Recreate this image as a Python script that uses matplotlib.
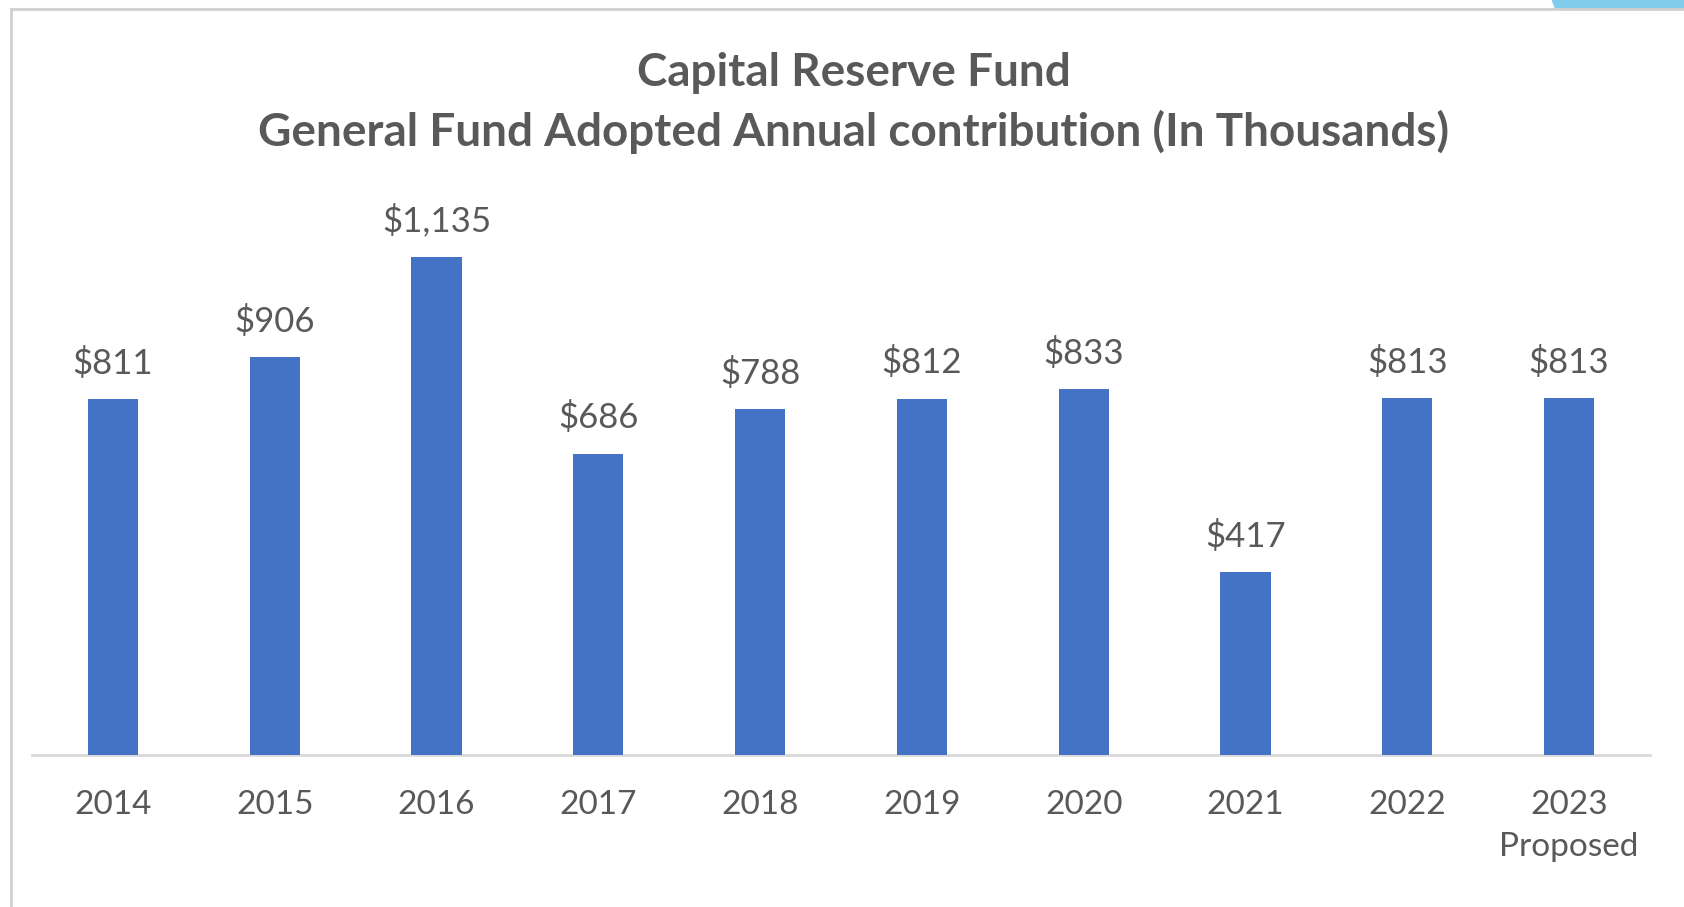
import matplotlib.pyplot as plt
from matplotlib.lines import Line2D
from matplotlib.patches import Polygon

years = ['2014', '2015', '2016', '2017', '2018', '2019', '2020', '2021', '2022', '2023\nProposed']
values = [811, 906, 1135, 686, 788, 812, 833, 417, 813, 813]
labels = ['$811', '$906', '$1,135', '$686', '$788', '$812', '$833', '$417', '$813', '$813']

W, H = 1684, 907
fig = plt.figure(figsize=(W / 100, H / 100), dpi=100)
plt.rcParams['font.family'] = ['Lato', 'DejaVu Sans']
grey = '#595959'

# axes placed in pixel coords: x from 32 to 1650, bottom at y=755, top at y=180
left, right, bottom, top = 32, 1650, 755, 180
ax = fig.add_axes([left / W, 1 - bottom / H, (right - left) / W, (bottom - top) / H])

x = list(range(len(years)))
ax.bar(x, values, width=0.31, color='#4472C4', zorder=3)
ax.set_xlim(-0.5, len(years) - 0.5)
ax.set_ylim(0, 1310)

for xi, v, lab in zip(x, values, labels):
    ax.annotate(lab, (xi, v), xytext=(0, 14), textcoords='offset points',
                ha='center', va='bottom', fontsize=25, color=grey)

ax.set_xticks(x)
ax.set_xticklabels(years, fontsize=24, color=grey, linespacing=1.5, va='top')
ax.tick_params(axis='x', length=0, pad=25)
ax.set_yticks([])
for s in ['left', 'right', 'top']:
    ax.spines[s].set_visible(False)
ax.spines['bottom'].set_color('#D9D9D9')
ax.spines['bottom'].set_linewidth(2)

fig.text(854 / W, 1 - 73 / H, 'Capital Reserve Fund', ha='center', va='center',
         fontsize=33, fontweight='bold', color=grey)
fig.text(854 / W, 1 - 132 / H, 'General Fund Adopted Annual contribution (In Thousands)',
         ha='center', va='center', fontsize=33, fontweight='bold', color=grey)

# frame of the screenshot
fig.add_artist(Line2D([11 / W, 11 / W], [0, 1 - 9 / H], color='#D0D0D0', lw=2))
fig.add_artist(Line2D([11 / W, 1], [1 - 9 / H, 1 - 9 / H], color='#D0D0D0', lw=2))
fig.add_artist(Polygon([[1552 / W, 1], [1, 1], [1, 1 - 8 / H], [1555 / W, 1 - 8 / H]],
                       closed=True, color='#7FCDEB', transform=fig.transFigure))

fig.savefig('out.png', dpi=100)
